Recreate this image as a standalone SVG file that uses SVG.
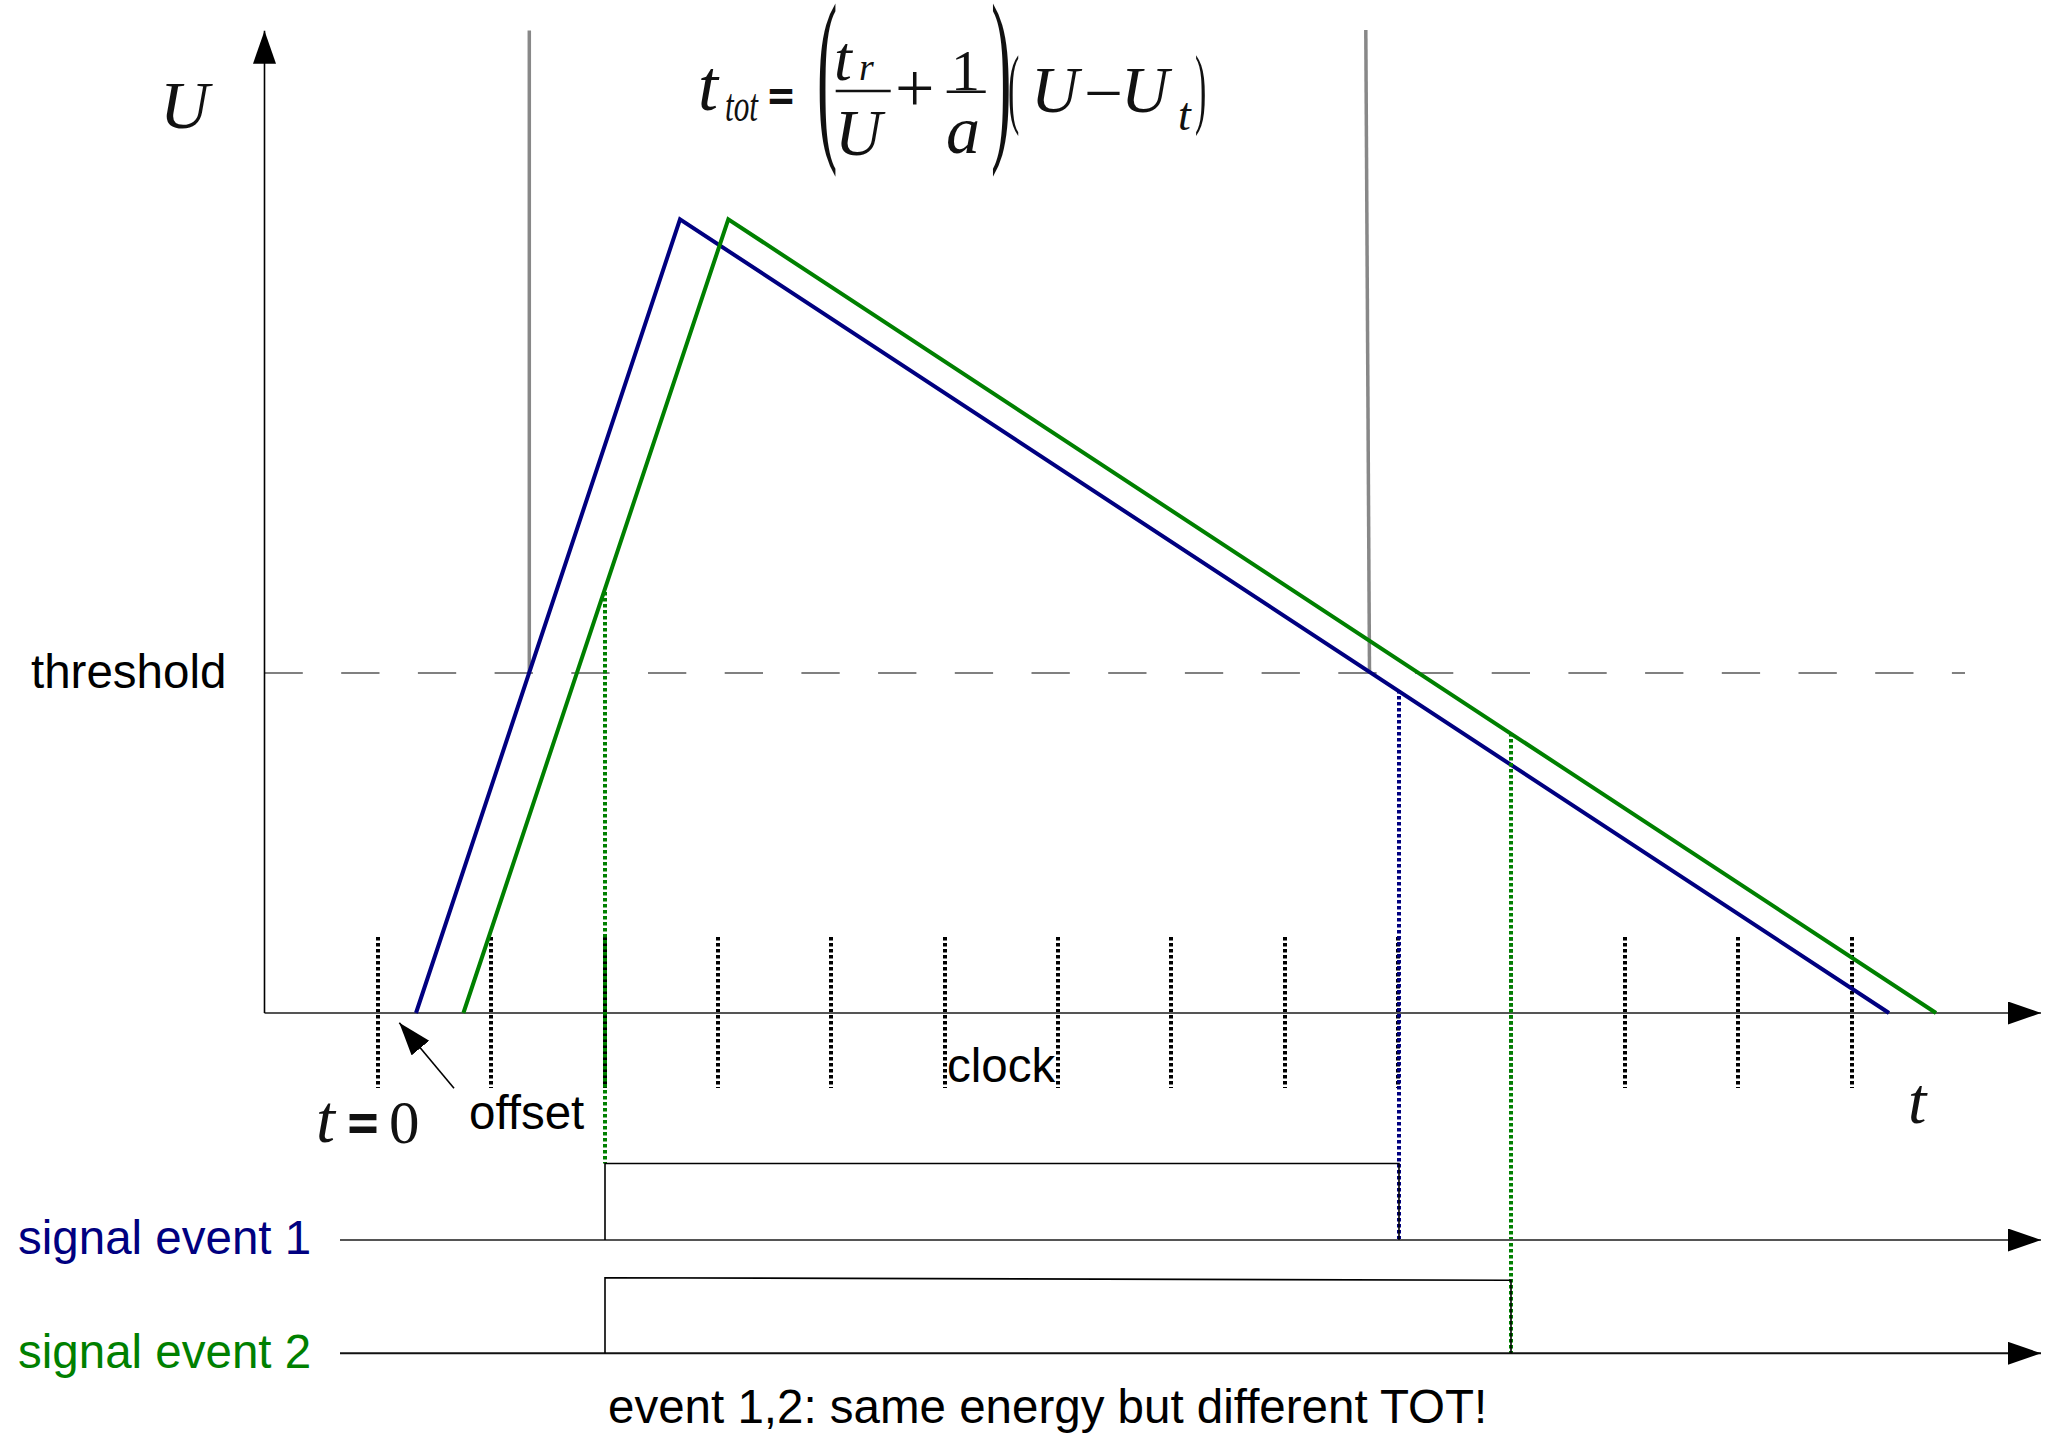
<svg xmlns="http://www.w3.org/2000/svg" width="2053" height="1434" viewBox="0 0 2053 1434">
<defs>
<marker id="arr" markerUnits="userSpaceOnUse" markerWidth="34" markerHeight="24" refX="33" refY="11.5" orient="auto">
<path d="M0,0 L33,11.5 L0,23 z" fill="#000"/>
</marker>
<style>
.sans{font-family:"Liberation Sans",Arial,sans-serif;font-size:47.5px;fill:#000}
.serif{font-family:"Liberation Serif","Times New Roman",serif;fill:#111}
.it{font-style:italic}
.eq{font-family:"DejaVu Sans",sans-serif;font-weight:bold;fill:#111}
.axis{stroke:#555;stroke-width:2;fill:none}
.thin{stroke:#000;stroke-width:1.6;fill:none}
.gray{stroke:#888;stroke-width:3.5;fill:none}
.tick{stroke:#000;stroke-width:4;stroke-dasharray:3.5 2.5;fill:none}
.blue{stroke:#000080;stroke-width:4;fill:none;stroke-linejoin:miter}
.green{stroke:#008000;stroke-width:4;fill:none;stroke-linejoin:miter}
.bdot{stroke:#000080;stroke-width:4;stroke-dasharray:3.5 2.5;fill:none}
.gdot{stroke:#008000;stroke-width:4;stroke-dasharray:3.5 2.5;fill:none}
.bar{stroke:#111;stroke-width:2.6}
</style>
</defs>
<rect width="2053" height="1434" fill="#fff"/>

<g id="threshold-line">
<line x1="264.5" y1="673" x2="1965" y2="673" stroke="#808080" stroke-width="2.2" stroke-dasharray="38.3 38.4"/>
</g>

<g id="gray-markers">
<line class="gray" x1="529.3" y1="30.5" x2="529.3" y2="673"/>
<line class="gray" x1="1365.8" y1="30" x2="1369.5" y2="673"/>
</g>

<g id="clock-ticks">
<line class="tick" x1="378" y1="937" x2="378" y2="1088"/>
<line class="tick" x1="491" y1="937" x2="491" y2="1088"/>
<line class="tick" x1="605" y1="937" x2="605" y2="1088"/>
<line class="tick" x1="718" y1="937" x2="718" y2="1088"/>
<line class="tick" x1="831" y1="937" x2="831" y2="1088"/>
<line class="tick" x1="945" y1="937" x2="945" y2="1088"/>
<line class="tick" x1="1058" y1="937" x2="1058" y2="1088"/>
<line class="tick" x1="1171" y1="937" x2="1171" y2="1088"/>
<line class="tick" x1="1285" y1="937" x2="1285" y2="1088"/>
<line class="tick" x1="1398" y1="937" x2="1398" y2="1088"/>
<line class="tick" x1="1511" y1="937" x2="1511" y2="1088"/>
<line class="tick" x1="1625" y1="937" x2="1625" y2="1088"/>
<line class="tick" x1="1738" y1="937" x2="1738" y2="1088"/>
<line class="tick" x1="1852" y1="937" x2="1852" y2="1088"/>
</g>

<g id="axes">
<line class="axis" x1="264.5" y1="1013" x2="2041" y2="1013" marker-end="url(#arr)"/>
<line x1="264.5" y1="1013" x2="264.5" y2="30.7" stroke="#000" stroke-width="1.6" marker-end="url(#arr)"/>
</g>

<g id="signal-event-1-curve">
<polyline class="blue" points="416,1013 680,219.3 1889,1013"/>
</g>
<g id="signal-event-2-curve">
<polyline class="green" points="463.4,1013 728.3,219.3 1936,1013"/>
</g>

<g id="connectors">
<line class="gdot" x1="605" y1="592" x2="605" y2="1163.5"/>
<line class="bdot" x1="1399" y1="690" x2="1399" y2="1240"/>
<line class="gdot" x1="1511" y1="733" x2="1511" y2="1353.3"/>
<line class="thin" x1="454" y1="1088.3" x2="399.3" y2="1022.7" marker-end="url(#arr)"/>
</g>

<g id="signal-1">
<line class="axis" x1="340" y1="1240" x2="2041" y2="1240" marker-end="url(#arr)"/>
<polyline class="thin" points="605,1240 605,1163.5 1399,1163.5 1399,1240"/>
</g>
<g id="signal-2">
<line x1="340" y1="1353.3" x2="2041" y2="1353.3" stroke="#111" stroke-width="2" marker-end="url(#arr)"/>
<polyline class="thin" points="605,1353.3 605,1277.7 1511,1280.3 1511,1353.3"/>
</g>

<g id="labels">
<text class="sans" x="31" y="688">threshold</text>
<text class="sans" x="947" y="1082.3">clock</text>
<text class="sans" x="469" y="1129.3">offset</text>
<text class="sans" x="18" y="1254" style="fill:#000080">signal event 1</text>
<text class="sans" x="18" y="1368" style="fill:#008000">signal event 2</text>
<text class="sans" x="608" y="1423">event 1,2: same energy but different TOT!</text>
<text class="serif it" x="160" y="128" font-size="68">U</text>
<text class="serif it" x="1908" y="1123" font-size="66">t</text>
</g>

<g id="t-zero">
<text class="serif it" x="316" y="1141.7" font-size="68">t</text>
<text class="eq" x="345" y="1141" font-size="56" textLength="36" lengthAdjust="spacingAndGlyphs">=</text>
<text class="serif" x="389" y="1142.7" font-size="61">0</text>
</g>

<g id="formula">
<text class="serif it" x="698" y="110" font-size="72">t</text>
<text class="serif it" x="725" y="121" font-size="46" textLength="33" lengthAdjust="spacingAndGlyphs">tot</text>
<text class="eq" x="766" y="110" font-size="44" textLength="30" lengthAdjust="spacingAndGlyphs">=</text>
<text class="serif" font-size="68" transform="translate(817,136) scale(0.9,2.81)">(</text>
<text class="serif it" x="834" y="80" font-size="64">t</text>
<text class="serif it" x="859" y="80" font-size="38">r</text>
<line class="bar" x1="835.7" y1="91" x2="890.7" y2="91"/>
<text class="serif it" x="835" y="155" font-size="65">U</text>
<text class="serif" x="895" y="112" font-size="70">+</text>
<text class="serif" x="951" y="90" font-size="58">1</text>
<line class="bar" x1="946.7" y1="91.7" x2="985.7" y2="91.7"/>
<text class="serif it" x="946" y="153.3" font-size="68">a</text>
<text class="serif" font-size="68" transform="translate(991,136) scale(0.9,2.81)">)</text>
<text class="serif" font-size="68" transform="translate(1008,117) scale(0.5,1.32)">(</text>
<text class="serif it" x="1031" y="111.7" font-size="66">U</text>
<text class="serif" x="1084" y="115" font-size="66" textLength="39" lengthAdjust="spacingAndGlyphs">−</text>
<text class="serif it" x="1121" y="111.7" font-size="66">U</text>
<text class="serif it" x="1178" y="130" font-size="46">t</text>
<text class="serif" font-size="68" transform="translate(1195,117) scale(0.5,1.32)">)</text>
</g>
</svg>
